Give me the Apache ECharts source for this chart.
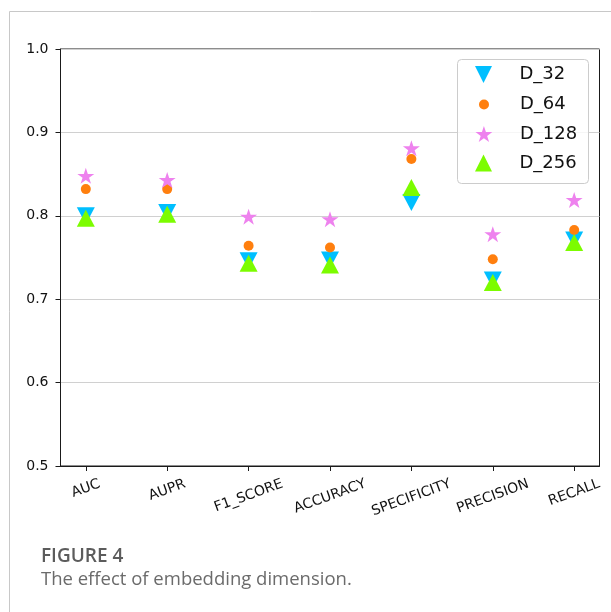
<!DOCTYPE html>
<html>
<head>
<meta charset="utf-8">
<script src="https://cdn.jsdelivr.net/npm/echarts@6/dist/echarts.min.js"></script>
<style>html,body{margin:0;padding:0;background:#fff}#c{width:611px;height:612px}</style>
</head>
<body>
<div id="c"></div>
<script>
var categories = ['AUC', 'AUPR', 'F1_SCORE', 'ACCURACY', 'SPECIFICITY', 'PRECISION', 'RECALL'];
var seriesNames = ['D_32', 'D_64', 'D_128', 'D_256'];
var d32  = [0.800, 0.804, 0.746, 0.747, 0.816, 0.723, 0.771];
var d64  = [0.832, 0.832, 0.764, 0.762, 0.868, 0.748, 0.783];
var d128 = [0.848, 0.843, 0.799, 0.796, 0.881, 0.778, 0.819];
var d256 = [0.797, 0.802, 0.743, 0.741, 0.834, 0.720, 0.768];
var yTicks = [0.5, 0.6, 0.7, 0.8, 0.9, 1.0];

var TRI_DOWN = 'path://M0,0 L20,0 L10,20 Z';
var TRI_UP = 'path://M10,0 L20,20 L0,20 Z';
var STAR = 'path://M0,-100 L22.45,-30.9 L95.11,-30.9 L36.33,11.8 L58.78,80.9 L0,38.2 L-58.78,80.9 L-36.33,11.8 L-95.11,-30.9 L-22.45,-30.9 Z';
var styles = [
  {color: '#00bfff', symbol: TRI_DOWN, size: [18, 17]},
  {color: '#ff7f0e', symbol: 'circle', size: 10},
  {color: '#ee82ee', symbol: STAR, size: [17, 16]},
  {color: '#7cfc00', symbol: TRI_UP, size: [18, 17]}
];
var values = [d32, d64, d128, d256];

var FONT = 'DejaVu Sans';
var LFS = 14;
var TXT = '#111111';
// measure label widths to mimic matplotlib rotated-label alignment
var cv = document.createElement('canvas').getContext('2d');
cv.font = LFS + 'px "' + FONT + '"';
var rad = 20 * Math.PI / 180;
var rich = {};
categories.forEach(function (c, i) {
  var w = cv.measureText(c).width;
  var s = w * Math.sin(rad) / 2;
  rich['c' + i] = {
    fontFamily: FONT, fontSize: LFS, color: TXT,
    padding: [2 * s * Math.cos(rad), 2 * s * Math.sin(rad), 0, 0]
  };
});

var chart = echarts.init(document.getElementById('c'), null, {renderer: 'canvas'});

var series = seriesNames.map(function (n, k) {
  return {
    name: n, type: 'scatter',
    symbol: styles[k].symbol, symbolSize: styles[k].size,
    itemStyle: {color: styles[k].color, opacity: 1},
    emphasis: {disabled: true},
    data: values[k].map(function (v, i) { return [i, v]; }),
    z: 3 + k
  };
});

var legendRows = [76.5, 106.5, 136, 165];
var legends = seriesNames.map(function (n, k) {
  var sz = styles[k].size;
  var iw = Array.isArray(sz) ? sz[0] : sz;
  var ih = Array.isArray(sz) ? sz[1] : sz;
  var left = 484 - iw / 2;
  return {
    data: [{name: n, icon: styles[k].symbol}],
    left: left, top: legendRows[k] - 11,
    padding: 0, itemWidth: iw, itemHeight: ih,
    selectedMode: false,
    itemStyle: {color: styles[k].color},
    textStyle: {fontFamily: FONT, fontSize: 18, color: TXT,
      padding: [0, 0, 0, 520 - (left + iw + 5)]},
    z: 10
  };
});

chart.setOption({
  animation: false,
  backgroundColor: '#fff',
  title: [
    {text: 'FIGURE 4', left: 41, top: 547,
     textStyle: {fontFamily: 'Open Sans', fontWeight: 600, fontSize: 19, color: '#5c5c5c'}, padding: 0},
    {text: 'The effect of embedding dimension.', left: 41, top: 570,
     textStyle: {fontFamily: 'Open Sans', fontWeight: 'normal', fontSize: 18.5, color: '#6b6b6b'}, padding: 0}
  ],
  graphic: [
    {type: 'polyline', shape: {points: [[9.5, 612], [9.5, 11.5], [611, 11.5]]},
     style: {stroke: '#c8c8c8', lineWidth: 1, fill: null}, z: 0},
    {type: 'rect', shape: {x: 457.5, y: 59.5, width: 131, height: 124, r: 4},
     style: {stroke: '#cccccc', lineWidth: 1, fill: 'rgba(255,255,255,0.8)'}, z: 8}
  ],
  legend: legends,
  grid: {left: 60.5, right: 11.5, top: 49, bottom: 146, show: true,
    borderColor: '#1a1a1a', borderWidth: 1, backgroundColor: 'transparent'},
  xAxis: {
    type: 'value', min: -0.311, max: 6.311,
    axisLine: {show: true, onZero: false, lineStyle: {color: '#1a1a1a', width: 1}},
    splitLine: {show: false},
    axisTick: {show: true, length: 5, customValues: categories.map(function (c, i) { return i; }),
      lineStyle: {color: '#1a1a1a'}},
    axisLabel: {
      customValues: categories.map(function (c, i) { return i; }),
      rotate: 20, align: 'center', verticalAlign: 'middle', margin: 17.5,
      formatter: function (v) { return '{c' + v + '|' + categories[v] + '}'; },
      rich: rich
    }
  },
  yAxis: {
    type: 'value', min: 0.5, max: 1.0, interval: 0.1,
    axisLine: {show: true, onZero: false, lineStyle: {color: '#1a1a1a', width: 1}},
    axisTick: {show: true, length: 5, lineStyle: {color: '#1a1a1a'}},
    splitLine: {show: true, lineStyle: {color: '#d0d0d0', width: 1}},
    axisLabel: {fontFamily: FONT, fontSize: LFS, color: TXT, margin: 12,
      formatter: function (v) { return v.toFixed(1); }}
  },
  series: series
});
</script>
</body>
</html>
